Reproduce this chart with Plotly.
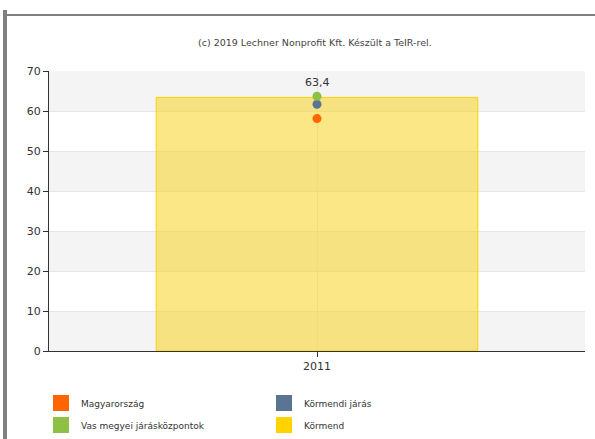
import plotly.graph_objects as go

years = ["2011"]
bar_name = "Körmend"
bar_values = [63.4]
point_series = ["Magyarország", "Körmendi járás", "Vas megyei járásközpontok"]
point_values = [[58.1], [61.7], [63.7]]
legend_rows = [["Magyarország", "Körmendi járás"], ["Vas megyei járásközpontok", "Körmend"]]
colors = {
    "Magyarország": "#ff6600",
    "Körmendi járás": "#5b7493",
    "Vas megyei járásközpontok": "#8dc043",
    "Körmend": "#ffd200",
}
y_ticks = [0, 10, 20, 30, 40, 50, 60, 70]
source_text = "(c) 2019 Lechner Nonprofit Kft. Készült a TeIR-rel."

FONT = "DejaVu Sans"
L, R, T, B = 49, 585, 71, 351
W, H = R - L, B - T


def px_x(px):
    return (px - L) / W


def px_y(py):
    return (B - py) / H


fig = go.Figure()

fig.add_trace(go.Bar(
    x=years, y=bar_values, name=bar_name, width=0.6,
    marker=dict(color="rgba(247,212,32,0.55)", line=dict(color="#ffd200", width=1)),
    showlegend=False, hoverinfo="skip",
))
for name, vals in zip(point_series, point_values):
    fig.add_trace(go.Scatter(
        x=years, y=vals, name=name, mode="markers",
        marker=dict(color=colors[name], size=9, symbol="circle"),
        showlegend=False,
    ))
for i, row in enumerate(legend_rows):
    for name in row:
        fig.add_trace(go.Scatter(
            x=[None], y=[None], name=name, mode="markers",
            marker=dict(color=colors[name], size=16, symbol="square"),
            showlegend=True, legend="legend" if i == 0 else "legend2",
        ))

# value labels (category axis: annotation x is the category's index)
for idx, v in enumerate(bar_values):
    fig.add_annotation(x=idx, y=v, xref="x", yref="y", text=f"{v:.1f}".replace(".", ","),
                       showarrow=False, yanchor="bottom", yshift=6,
                       font=dict(family=FONT, size=11, color="#333"))

fig.add_annotation(xref="paper", yref="paper", x=px_x(315), y=px_y(43),
                   text=source_text, showarrow=False, xanchor="center", yanchor="middle",
                   font=dict(family=FONT, size=9.5, color="#444"))

shapes = []
for lo in range(0, 70, 20):
    shapes.append(dict(type="rect", xref="paper", yref="y", x0=0, x1=1, y0=lo, y1=lo + 10,
                       fillcolor="#f4f4f4", line=dict(width=0), layer="below"))
shapes.append(dict(type="line", xref="paper", yref="paper", x0=px_x(5), x1=px_x(600),
                   y0=px_y(15), y1=px_y(15), line=dict(color="#808080", width=2)))
shapes.append(dict(type="line", xref="paper", yref="paper", x0=px_x(5), x1=px_x(5),
                   y0=px_y(10), y1=px_y(445), line=dict(color="#808080", width=4)))

leg_common = dict(orientation="h", xanchor="left", yanchor="middle",
                  entrywidth=178, entrywidthmode="pixels",
                  font=dict(family=FONT, size=9, color="#333"),
                  itemsizing="trace", traceorder="normal", bgcolor="rgba(0,0,0,0)")

fig.update_layout(
    width=595, height=439,
    margin=dict(l=L, r=595 - R, t=T, b=439 - B, autoexpand=False),
    paper_bgcolor="white", plot_bgcolor="white",
    font=dict(family=FONT, size=11, color="#333"),
    shapes=shapes,
    showlegend=True,
    legend=dict(x=px_x(41), y=px_y(403), **leg_common),
    legend2=dict(x=px_x(41), y=px_y(425), **leg_common),
    xaxis=dict(type="category", range=[-0.5, 0.5], autorange=False, showgrid=True, gridcolor="#e8e8e8",
               showline=True, linecolor="#333", linewidth=1, ticks="outside", ticklen=5,
               tickcolor="#333", tickfont=dict(size=11), fixedrange=True),
    yaxis=dict(range=[0, 70], tickvals=y_ticks, showgrid=True, gridcolor="#e6e6e6", zeroline=False,
               showline=True, linecolor="#333", linewidth=1, ticks="outside", ticklen=5, tickcolor="#333",
               tickfont=dict(size=11), fixedrange=True),
)

fig.write_html("out.html", config={"displayModeBar": False},
               post_script="document.body.style.margin='0';")
